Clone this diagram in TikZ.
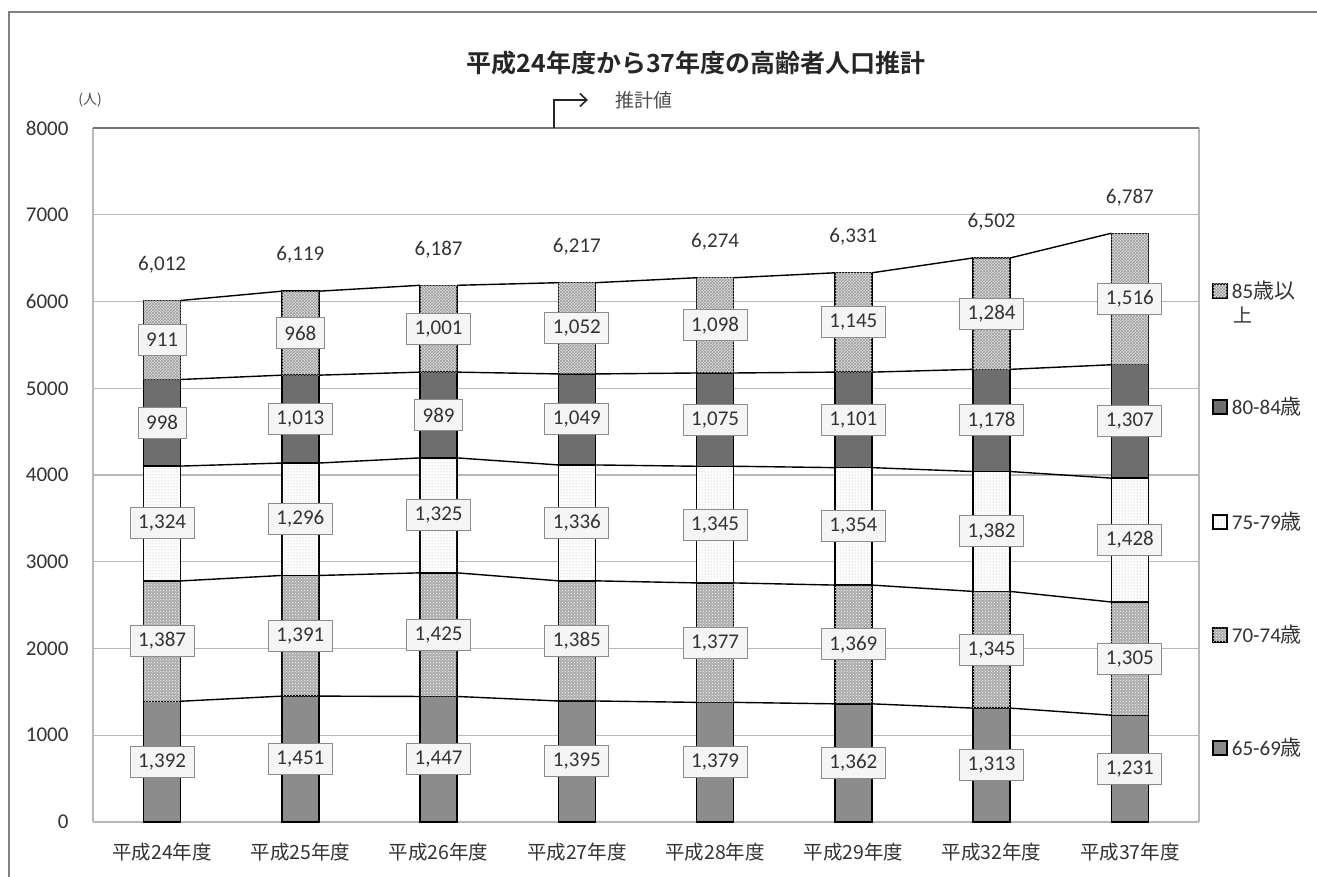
\documentclass[tikz,border=0pt]{standalone}
\usepackage{fontspec}
\setmainfont{Carlito}
\newfontfamily\jp{Noto Sans CJK JP}
\newfontfamily\jpbold{Noto Sans CJK JP Bold}
\usetikzlibrary{patterns,arrows.meta,positioning}
\pgfkeys{/pgf/number format/.cd,fixed,precision=0,1000 sep={,},assume math mode=true}

\tikzset{
  grid line/.style={black!28,line width=1.2pt},
  top line/.style={black!55,line width=1.6pt},
  bar edge/.style={draw=black,line width=1.4pt},
  age65/.style={bar edge,fill=black!45},
  age70/.style={bar edge,fill=black!33,postaction={pattern=crosshatch dots,pattern color=white}},
  age75/.style={bar edge,fill=white,postaction={pattern=dots,pattern color=black!35}},
  age80/.style={bar edge,fill=black!57},
  age85/.style={bar edge,fill=black!12,postaction={pattern=crosshatch,pattern color=black!40}},
  valbox/.style={draw=black!45,fill=black!4,line width=1pt,inner xsep=8pt,inner ysep=5pt,
    minimum height=31pt,text=black!80,font=\fontsize{21}{21}\selectfont},
  totlabel/.style={text=black!80,font=\fontsize{21}{21}\selectfont},
  ylab/.style={anchor=east,text=black!80,font=\fontsize{21}{21}\selectfont},
  catlab/.style={text=black!80,font=\jp\fontsize{19.5}{19.5}\selectfont},
  legkey/.style={minimum size=14pt,inner sep=0pt,line width=1.2pt},
  legtext/.style={inner sep=0pt,text=black!80,font=\fontsize{21}{21}\selectfont},
  series line/.style={black,line width=1.4pt},
}

% one stacked bar: #1 = position, #2..#6 = 65-69 .. 85+
\newcommand{\agebar}[6]{%
  \pgfmathsetmacro\sA{#2}
  \pgfmathsetmacro\sB{\sA+#3}
  \pgfmathsetmacro\sC{\sB+#4}
  \pgfmathsetmacro\sD{\sC+#5}
  \pgfmathsetmacro\sE{\sD+#6}
  \draw[age65] (#1-0.634,0) rectangle (#1-0.366,\sA);
  \draw[age70] (#1-0.634,\sA) rectangle (#1-0.366,\sB);
  \draw[age75] (#1-0.634,\sB) rectangle (#1-0.366,\sC);
  \draw[age80] (#1-0.634,\sC) rectangle (#1-0.366,\sD);
  \draw[age85] (#1-0.634,\sD) rectangle (#1-0.366,\sE);
  \coordinate (l#1-1) at (#1-0.634,\sA); \coordinate (r#1-1) at (#1-0.366,\sA);
  \coordinate (l#1-2) at (#1-0.634,\sB); \coordinate (r#1-2) at (#1-0.366,\sB);
  \coordinate (l#1-3) at (#1-0.634,\sC); \coordinate (r#1-3) at (#1-0.366,\sC);
  \coordinate (l#1-4) at (#1-0.634,\sD); \coordinate (r#1-4) at (#1-0.366,\sD);
  \coordinate (l#1-5) at (#1-0.634,\sE); \coordinate (r#1-5) at (#1-0.366,\sE);
  \node[valbox] (v#1-1) at (#1-0.5,{\sA/2}) {\pgfmathprintnumber{#2}};
  \node[valbox] (v#1-2) at (#1-0.5,{(\sA+\sB)/2}) {\pgfmathprintnumber{#3}};
  \node[valbox] (v#1-3) at (#1-0.5,{(\sB+\sC)/2}) {\pgfmathprintnumber{#4}};
  \node[valbox] (v#1-4) at (#1-0.5,{(\sC+\sD)/2}) {\pgfmathprintnumber{#5}};
  \node[valbox] (v#1-5) at (#1-0.5,{(\sD+\sE)/2}) {\pgfmathprintnumber{#6}};
  \node[totlabel] (tot#1) at (#1-0.5,\sE+415) {\pgfmathprintnumber{\sE}};
}

\begin{document}
\begin{tikzpicture}[x=1pt,y=1pt]
\useasboundingbox (0,0) rectangle (1317,877);
\draw[black!50,line width=2pt] (9,0) -- (9,865) -- (1317,865);

\node[text=black!85,font=\jpbold\fontsize{25}{25}\selectfont] (title) at (696,814) {平成24年度から37年度の高齢者人口推計};
\node[text=black!70,font=\jp\fontsize{14}{14}\selectfont] (unit) at (90,777) {(人)};

\begin{scope}[shift={(93,55)},x=138.25pt,y=0.08675pt]
\foreach \k in {0,...,7}
  \draw[grid line] (0,\k*1000) -- (8,\k*1000);
\draw[grid line] (0,0) -- (0,8000);
\draw[grid line] (8,0) -- (8,8000);
\draw[top line] (0,8000) -- (8,8000);
\node[ylab] (y0) at (-0.152,0) {0};
\foreach \k in {1,...,8}
  \node[ylab] (y\k) at (-0.152,\k*1000) {\k000};

\agebar{1}{1392}{1387}{1324}{998}{911}
\agebar{2}{1451}{1391}{1296}{1013}{968}
\agebar{3}{1447}{1425}{1325}{989}{1001}
\agebar{4}{1395}{1385}{1336}{1049}{1052}
\agebar{5}{1379}{1377}{1345}{1075}{1098}
\agebar{6}{1362}{1369}{1354}{1101}{1145}
\agebar{7}{1313}{1345}{1382}{1178}{1284}
\agebar{8}{1231}{1305}{1428}{1307}{1516}

\foreach \i [evaluate=\i as \j using int(\i+1)] in {1,...,7}
  \foreach \k in {1,...,5}
    \draw[series line] (r\i-\k) -- (l\j-\k);

\node[catlab,yshift=-30pt] (c1) at (0.5,0) {平成24年度};
\node[catlab,yshift=-30pt] (c2) at (1.5,0) {平成25年度};
\node[catlab,yshift=-30pt] (c3) at (2.5,0) {平成26年度};
\node[catlab,yshift=-30pt] (c4) at (3.5,0) {平成27年度};
\node[catlab,yshift=-30pt] (c5) at (4.5,0) {平成28年度};
\node[catlab,yshift=-30pt] (c6) at (5.5,0) {平成29年度};
\node[catlab,yshift=-30pt] (c7) at (6.5,0) {平成32年度};
\node[catlab,yshift=-30pt] (c8) at (7.5,0) {平成37年度};
\end{scope}

% estimate marker
\coordinate (est foot) at (554,749);
\coordinate (est bend) at (554,777);
\coordinate (est tip) at (588,777);
\draw[black!85,line width=1.6pt,-{Straight Barb[length=7pt,width=13pt]}] (est foot) -- (est bend) -- (est tip);
\node[text=black!70,font=\jp\fontsize{19}{19}\selectfont,right=24pt of est tip] (est) {推計値};

% legend
\node[legkey,age85] (k85) at (1220,586) {};
\node[legkey,age80] (k80) at (1220,470) {};
\node[legkey,age75] (k75) at (1220,355) {};
\node[legkey,age70] (k70) at (1220,242) {};
\node[legkey,age65] (k65) at (1220,129) {};
\node[legtext,right=4pt of k85] (t85) {85{\jp 歳以}};
\node[legtext,anchor=north west,font=\jp\fontsize{19}{19}\selectfont] (t85b) at ([xshift=2pt,yshift=-6pt]t85.south west) {上};
\node[legtext,right=4pt of k80] (t80) {80-84{\jp 歳}};
\node[legtext,right=4pt of k75] (t75) {75-79{\jp 歳}};
\node[legtext,right=4pt of k70] (t70) {70-74{\jp 歳}};
\node[legtext,right=4pt of k65] (t65) {65-69{\jp 歳}};
\end{tikzpicture}
\end{document}
